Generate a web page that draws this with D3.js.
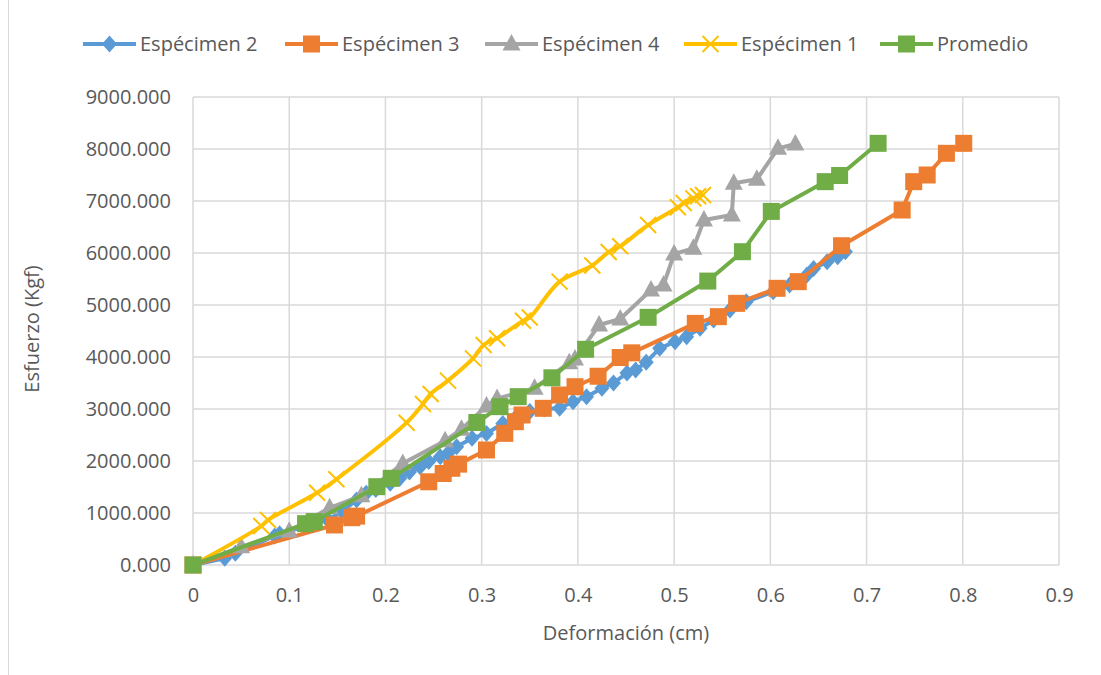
<!DOCTYPE html>
<html><head><meta charset="utf-8">
<script src="https://cdn.jsdelivr.net/npm/d3@7"></script>
<style>body{margin:0;background:#fff}svg{display:block}text{font-family:"Open Sans",sans-serif;fill:#595959}</style>
</head><body><svg id="c" width="1101" height="675"></svg>
<script>
// ---- data ----
const seriesNames = ["Espécimen 2","Espécimen 3","Espécimen 4","Espécimen 1","Promedio"];
const xTicks = [0,0.1,0.2,0.3,0.4,0.5,0.6,0.7,0.8,0.9];
const yTicks = [0,1000,2000,3000,4000,5000,6000,7000,8000,9000];

const esp2X = [0,0.033,0.044,0.085,0.09,0.14,0.155,0.17,0.18,0.19,0.205,0.215,0.225,0.236,0.245,0.257,0.265,0.274,0.29,0.305,0.322,0.336,0.35,0.365,0.381,0.395,0.409,0.425,0.437,0.451,0.46,0.471,0.485,0.501,0.513,0.527,0.541,0.558,0.575,0.603,0.62,0.638,0.645,0.659,0.67,0.678];
const esp2Y = [0,130,225,560,600,870,1030,1250,1380,1450,1570,1670,1790,1890,1990,2080,2150,2276,2436,2530,2720,2850,2950,3000,3013,3140,3237,3400,3500,3690,3750,3900,4167,4295,4391,4551,4712,4904,5064,5256,5385,5577,5700,5833,5930,6025];

const esp3X = [0,0.147,0.165,0.17,0.245,0.26,0.269,0.276,0.305,0.324,0.335,0.342,0.364,0.381,0.397,0.421,0.444,0.456,0.522,0.546,0.565,0.607,0.629,0.674,0.737,0.749,0.763,0.783,0.801];
const esp3Y = [0,770,910,940,1600,1760,1860,1940,2212,2532,2756,2885,3013,3269,3429,3630,3990,4080,4647,4776,5032,5321,5449,6140,6827,7372,7500,7917,8109];

const esp4X = [0,0.05,0.1,0.142,0.175,0.218,0.262,0.279,0.305,0.316,0.355,0.391,0.397,0.422,0.444,0.476,0.489,0.5,0.52,0.531,0.56,0.562,0.586,0.608,0.626];
const esp4Y = [0,350,650,1100,1330,1950,2390,2610,3060,3200,3400,3890,3960,4615,4730,5288,5385,5980,6090,6635,6730,7340,7417,8013,8096];

const esp1X = [0,0.071,0.078,0.129,0.149,0.222,0.239,0.247,0.265,0.291,0.302,0.316,0.343,0.35,0.381,0.415,0.432,0.444,0.473,0.504,0.51,0.52,0.525,0.53];
const esp1Y = [0,750,865,1390,1648,2737,3096,3288,3545,3974,4230,4359,4698,4760,5449,5760,6020,6130,6538,6880,6960,7050,7090,7115];

const promX = [0,0.117,0.126,0.191,0.206,0.295,0.319,0.338,0.373,0.408,0.473,0.535,0.571,0.601,0.657,0.672,0.712];
const promY = [0,795,835,1506,1667,2740,3045,3237,3600,4148,4763,5460,6025,6800,7372,7490,8109];

const colors = ["#5B9BD5","#ED7D31","#A5A5A5","#FFC000","#70AD47"];
const markers = ["diamond","square","triangle","x","square"];
const xs = [esp2X,esp3X,esp4X,esp1X,promX];
const ys = [esp2Y,esp3Y,esp4Y,esp1Y,promY];

// ---- layout ----
const svg = d3.select("#c");
const L=193,R=1059,T=97,B=565;
const x = d3.scaleLinear().domain([0,0.9]).range([L,R]);
const y = d3.scaleLinear().domain([0,9000]).range([B,T]);

svg.append("line").attr("x1",8.5).attr("x2",8.5).attr("y1",0).attr("y2",675).attr("stroke","#d9d9d9").attr("stroke-width",1);

// grid
const g = svg.append("g");
g.selectAll(".hg").data(yTicks).join("line").attr("x1",L).attr("x2",R).attr("y1",d=>y(d)).attr("y2",d=>y(d)).attr("stroke","#d9d9d9").attr("stroke-width",1.5);
g.selectAll(".vg").data(xTicks).join("line").attr("y1",T).attr("y2",B).attr("x1",d=>x(d)).attr("x2",d=>x(d)).attr("stroke","#d9d9d9").attr("stroke-width",1.5);

// axes
const fs = 20;
const ya = svg.append("g").attr("transform",`translate(${L},0)`).call(d3.axisLeft(y).tickValues(yTicks).tickFormat(d3.format(".3f")).tickSize(0).tickPadding(22));
const xa = svg.append("g").attr("transform",`translate(0,${B})`).call(d3.axisBottom(x).tickValues(xTicks).tickFormat(d=>d3.format("")(+d.toFixed(1))).tickSize(0).tickPadding(23));
[ya,xa].forEach(a=>{a.select(".domain").remove();a.selectAll("text").attr("font-size",fs).attr("fill","#595959").style("font-family","Open Sans");});

svg.append("text").attr("transform",`translate(39,${(T+B)/2 - 2}) rotate(-90)`).attr("text-anchor","middle").attr("font-size",fs).text("Esfuerzo (Kgf)");
svg.append("text").attr("x",626).attr("y",640).attr("text-anchor","middle").attr("font-size",fs).text("Deformación (cm)");

// markers
function drawMarker(sel, type, color){
  if(type==="square") sel.append("rect").attr("x",-8.5).attr("y",-8.5).attr("width",17).attr("height",17).attr("fill",color);
  else if(type==="diamond") sel.append("path").attr("d","M0,-8.5L7.5,0L0,8.5L-7.5,0Z").attr("fill",color);
  else if(type==="triangle") sel.append("path").attr("d","M0,-10L9,6.5L-9,6.5Z").attr("fill",color);
  else if(type==="x") sel.append("path").attr("d","M-8,-8L8,8M-8,8L8,-8").attr("stroke",color).attr("stroke-width",2).attr("fill","none");
}

const plot = svg.append("g");
seriesNames.forEach((name,i)=>{
  const pts = xs[i].map((v,j)=>[v,ys[i][j]]);
  const curve = i===3 ? d3.curveCatmullRom.alpha(0.5) : d3.curveLinear;
  const line = d3.line().x(d=>x(d[0])).y(d=>y(d[1])).curve(curve);
  const gs = plot.append("g");
  gs.append("path").datum(pts).attr("d",line).attr("fill","none").attr("stroke",colors[i]).attr("stroke-width",4).attr("stroke-linejoin","round");
  gs.selectAll("g.m").data(pts).join("g").attr("transform",d=>`translate(${x(d[0])},${y(d[1])})`).each(function(){drawMarker(d3.select(this),markers[i],colors[i]);});
});

// legend
const legX = [83,285,485,684,880];
const leg = svg.append("g");
seriesNames.forEach((name,i)=>{
  const lg = leg.append("g").attr("transform",`translate(${legX[i]},44)`);
  lg.append("line").attr("x1",0).attr("x2",53).attr("stroke",colors[i]).attr("stroke-width",4);
  const m = lg.append("g").attr("transform","translate(26.5,0)");
  drawMarker(m,markers[i],colors[i]);
  lg.append("text").attr("x",57).attr("y",0).attr("dy","0.35em").attr("font-size",fs).text(name);
});
</script></body></html>
